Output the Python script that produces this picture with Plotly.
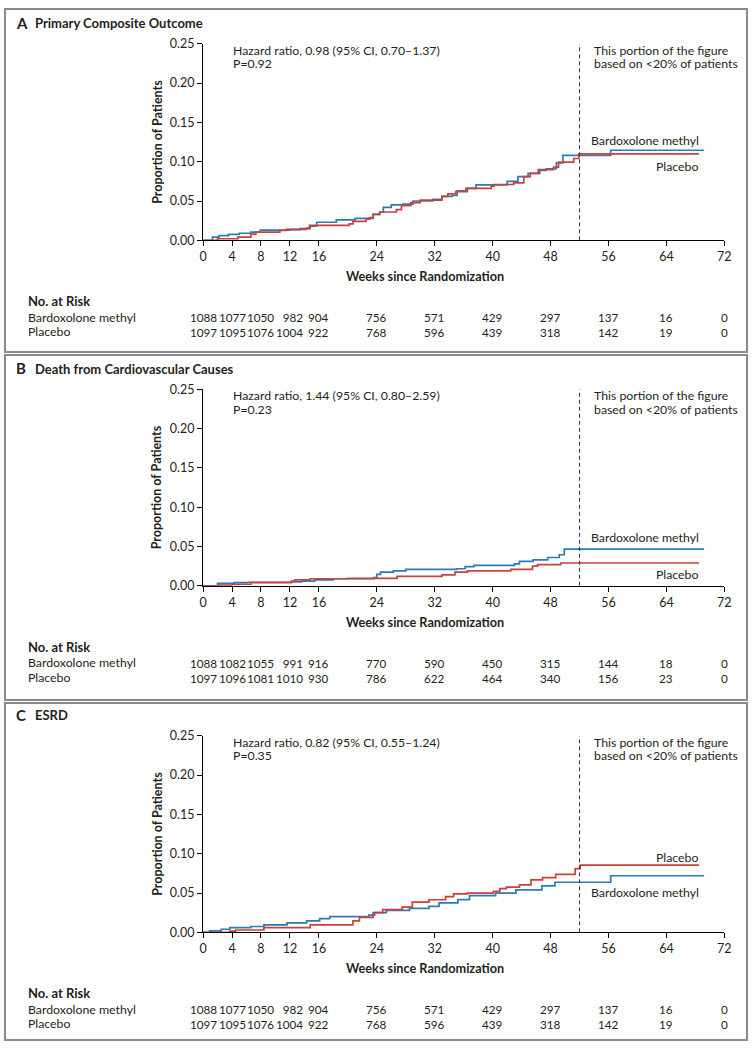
import plotly.graph_objects as go

W, H = 755, 1048
FONT = "Lato"
BLUE = "#2b7bb9"
RED = "#c9413a"
TXT = "#231f20"

# ---------------- data ----------------
xtick_vals = [0, 4, 8, 12, 16, 24, 32, 40, 48, 56, 64, 72]
ytick_vals = [0, 0.05, 0.10, 0.15, 0.20, 0.25]
ytick_text = ["0.00", "0.05", "0.10", "0.15", "0.20", "0.25"]
risk_weeks = [0, 4, 8, 12, 16, 24, 32, 40, 48, 56, 64, 72]

panel_titles = ["Primary Composite Outcome", "Death from Cardiovascular Causes", "ESRD"]
panel_letters = ["A", "B", "C"]
hazard_text = ["Hazard ratio, 0.98 (95% CI, 0.70\u20131.37)",
               "Hazard ratio, 1.44 (95% CI, 0.80\u20132.59)",
               "Hazard ratio, 0.82 (95% CI, 0.55\u20131.24)"]
p_text = ["P=0.92", "P=0.23", "P=0.35"]

# Panel A - primary composite outcome
a_bard_t = [0, 1.3, 2.2, 3.5, 5.0, 6.6, 7.9, 12.0, 13.4, 14.8, 15.7, 18.4, 21.0, 23.5, 24.4, 24.9,
            26.0, 27.6, 29.0, 31.7, 33.0, 34.4, 35.1, 36.3, 37.7, 42.0, 43.5, 44.9, 46.5, 47.4,
            48.8, 49.7, 56.3, 69.2]
a_bard_y = [0, 0.004, 0.006, 0.0075, 0.009, 0.0105, 0.013, 0.0135, 0.015, 0.018, 0.023, 0.026,
            0.028, 0.033, 0.036, 0.042, 0.045, 0.046, 0.050, 0.052, 0.056, 0.057, 0.063, 0.066,
            0.0705, 0.075, 0.081, 0.085, 0.089, 0.091, 0.0985, 0.108, 0.1145, 0.1145]
a_plac_t = [0, 2.0, 4.8, 6.6, 7.3, 10.6, 11.5, 14.3, 14.7, 20.2, 20.7, 22.5, 23.0, 23.5, 24.4,
            26.7, 27.4, 28.7, 30.0, 33.0, 33.8, 34.9, 36.5, 39.8, 40.2, 42.9, 44.3, 45.2, 46.3,
            48.4, 49.1, 51.2, 51.9, 68.5]
a_plac_y = [0, 0.002, 0.004, 0.008, 0.0105, 0.0125, 0.014, 0.0155, 0.019, 0.021, 0.024, 0.027,
            0.029, 0.033, 0.036, 0.039, 0.044, 0.048, 0.051, 0.056, 0.059, 0.062, 0.066, 0.069,
            0.071, 0.073, 0.081, 0.085, 0.090, 0.093, 0.0995, 0.104, 0.110, 0.110]

# Panel B - death from cardiovascular causes
b_bard_t = [0, 2.0, 4.3, 6.2, 12.2, 13.6, 15.4, 18.0, 23.6, 24.0, 24.5, 26.3, 28.0, 35.0, 36.2,
            37.4, 43.0, 43.7, 45.6, 47.6, 49.2, 49.9, 69.2]
b_bard_y = [0, 0.003, 0.004, 0.0045, 0.005, 0.006, 0.0075, 0.009, 0.0105, 0.0145, 0.0175, 0.019,
            0.021, 0.0217, 0.0245, 0.026, 0.028, 0.031, 0.033, 0.036, 0.0395, 0.0467, 0.0467]
b_plac_t = [0, 2.2, 4.0, 6.6, 12.2, 12.7, 14.8, 20.0, 26.8, 33.0, 34.8, 36.5, 42.5, 45.5, 46.2,
            49.4, 68.5]
b_plac_y = [0, 0.001, 0.002, 0.004, 0.006, 0.0075, 0.009, 0.0095, 0.012, 0.014, 0.0175, 0.019,
            0.021, 0.025, 0.027, 0.029, 0.029]

# Panel C - ESRD
c_bard_t = [0, 0.9, 2.5, 3.7, 6.6, 8.4, 11.6, 14.3, 16.1, 17.5, 22.9, 23.7, 25.3, 28.5, 31.2,
            32.6, 35.2, 36.8, 40.4, 43.2, 46.8, 48.6, 56.3, 69.2]
c_bard_y = [0, 0.002, 0.004, 0.006, 0.0075, 0.0095, 0.012, 0.0145, 0.0175, 0.020, 0.022, 0.025,
            0.028, 0.0305, 0.033, 0.0375, 0.0416, 0.0466, 0.050, 0.054, 0.059, 0.0637, 0.072, 0.072]
c_plac_t = [0, 3.7, 4.5, 8.4, 14.8, 20.7, 21.6, 23.5, 24.8, 27.5, 28.9, 31.2, 33.5, 34.6, 36.5,
            40.1, 41.0, 41.9, 43.7, 45.3, 46.9, 48.7, 51.4, 52.1, 68.5]
c_plac_y = [0, 0.0015, 0.003, 0.006, 0.0095, 0.0145, 0.019, 0.025, 0.029, 0.032, 0.0385, 0.0415,
            0.0455, 0.049, 0.050, 0.052, 0.0555, 0.0575, 0.0604, 0.0667, 0.0696, 0.0737, 0.081,
            0.0854, 0.0854]

# Numbers at risk
a_risk_bard = [1088, 1077, 1050, 982, 904, 756, 571, 429, 297, 137, 16, 0]
a_risk_plac = [1097, 1095, 1076, 1004, 922, 768, 596, 439, 318, 142, 19, 0]
b_risk_bard = [1088, 1082, 1055, 991, 916, 770, 590, 450, 315, 144, 18, 0]
b_risk_plac = [1097, 1096, 1081, 1010, 930, 786, 622, 464, 340, 156, 23, 0]
c_risk_bard = [1088, 1077, 1050, 982, 904, 756, 571, 429, 297, 137, 16, 0]
c_risk_plac = [1097, 1095, 1076, 1004, 922, 768, 596, 439, 318, 142, 19, 0]

series = [
    (a_bard_t, a_bard_y, a_plac_t, a_plac_y, a_risk_bard, a_risk_plac),
    (b_bard_t, b_bard_y, b_plac_t, b_plac_y, b_risk_bard, b_risk_plac),
    (c_bard_t, c_bard_y, c_plac_t, c_plac_y, c_risk_bard, c_risk_plac),
]

# ---------------- layout geometry (pixels) ----------------
X0, X1 = 202, 731
panel_top = [36.2, 386.7, 738.3]      # y pixel of 0.25
panel_h = 199.5                       # pixels from 0.25 to 0.00
dy = [0, 350.5, 702.1]                # offsets between panels
frames = [(1, 1, 754, 349), (1, 352, 754, 702), (1, 705, 754, 1047)]
# curve label positions (y pixel) per panel: (bardoxolone, placebo)
label_y = [(134.3, 160.7), (536.7, 574.3), (897.3, 861.7)]


def px(x):
    return x / W


def py(y):
    return 1 - y / H


fig = go.Figure()
annotations = []
shapes = []


def ann(text, x, y, size=12.3, bold=False, xanchor="left", yanchor="middle", **kw):
    if bold:
        text = "<b>" + text + "</b>"
    annotations.append(dict(text=text, x=px(x), y=py(y), xref="paper", yref="paper",
                            showarrow=False, xanchor=xanchor, yanchor=yanchor,
                            font=dict(family=FONT, size=size, color=TXT), **kw))


for i in range(3):
    bt, by, pt, pyv, rb, rp = series[i]
    xa = "x" if i == 0 else f"x{i+1}"
    ya = "y" if i == 0 else f"y{i+1}"
    fig.add_trace(go.Scatter(x=bt, y=by, mode="lines", line=dict(color=BLUE, width=1.7, shape="hv"),
                             xaxis=xa, yaxis=ya, showlegend=False, hoverinfo="skip"))
    fig.add_trace(go.Scatter(x=pt, y=pyv, mode="lines", line=dict(color=RED, width=1.7, shape="hv"),
                             xaxis=xa, yaxis=ya, showlegend=False, hoverinfo="skip"))

    top = panel_top[i]
    bot = top + panel_h
    xkey = "xaxis" if i == 0 else f"xaxis{i+1}"
    ykey = "yaxis" if i == 0 else f"yaxis{i+1}"
    fig.update_layout(**{
        xkey: dict(domain=[px(X0), px(X1)], range=[0, 72], anchor=ya, tickvals=xtick_vals,
                   ticks="outside", ticklen=5, tickwidth=1, tickcolor="black",
                   showline=True, linecolor="black", linewidth=1, showgrid=False, zeroline=False,
                   tickfont=dict(family=FONT, size=12.5, color=TXT), fixedrange=True),
        ykey: dict(domain=[py(bot), py(top)], range=[0, 0.25], anchor=xa, tickvals=ytick_vals,
                   ticktext=ytick_text, ticks="outside", ticklen=5, tickwidth=1, tickcolor="black",
                   showline=True, linecolor="black", linewidth=1, showgrid=False, zeroline=False,
                   tickfont=dict(family=FONT, size=12.5, color=TXT), fixedrange=True),
    })

    # dashed 52-week line
    shapes.append(dict(type="line", xref=xa, yref=ya, x0=52, x1=52, y0=0, y1=0.25,
                       line=dict(color="#333333", width=1, dash="4px,3px")))
    # frame
    fx0, fy0, fx1, fy1 = frames[i]
    shapes.append(dict(type="rect", xref="paper", yref="paper", x0=px(fx0), x1=px(fx1),
                       y0=py(fy1), y1=py(fy0), line=dict(color="#8a8a8a", width=2)))

    d = dy[i]
    # panel title
    ann(panel_letters[i], 10, 15 + d, size=15, bold=True)
    ann(panel_titles[i], 29, 15.5 + d, size=13, bold=True)
    # y axis title
    ann("Proportion of Patients", 155, 136 + d, size=12.5, bold=True, xanchor="center",
        textangle=-90)
    # x axis title
    ann("Weeks since Randomization", 427, 272 + d, size=12.7, bold=True, xanchor="center")
    # hazard ratio
    ann(hazard_text[i], 230, 43 + d)
    ann(p_text[i], 230, 56.5 + d)
    ann("This portion of the figure", 597, 43 + d)
    ann("based on &lt;20% of patients", 597, 56.5 + d)
    # curve labels
    ann("Bardoxolone methyl", 707, label_y[i][0], xanchor="right")
    ann("Placebo", 707, label_y[i][1], xanchor="right")
    # number at risk
    ann("No. at Risk", 22, 297.3 + d, size=13, bold=True)
    ann("Bardoxolone methyl", 22, 314 + d)
    ann("Placebo", 22, 328.5 + d)
    for j, wk in enumerate(risk_weeks):
        xpix = X0 + (X1 - X0) * wk / 72
        annotations.append(dict(text=f"{rb[j]}<br>{rp[j]}", x=px(xpix), y=py(321.2 + d),
                                xref="paper", yref="paper", showarrow=False,
                                xanchor="center", yanchor="middle", align="right",
                                font=dict(family=FONT, size=11.7, color=TXT)))

fig.update_layout(width=W, height=H, margin=dict(l=0, r=0, t=0, b=0),
                  paper_bgcolor="white", plot_bgcolor="white",
                  annotations=annotations, shapes=shapes, showlegend=False)

fig.write_html("out.html",
               config={"displayModeBar": False, "staticPlot": True},
               post_script="document.body.style.margin='0px';"
                           "document.body.style.overflow='hidden';")
